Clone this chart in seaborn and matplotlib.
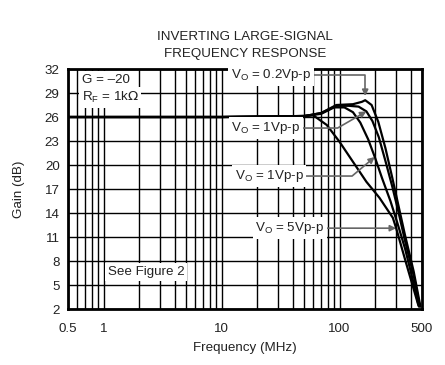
import numpy as np
import pandas as pd
import seaborn as sns
import matplotlib
matplotlib.use("Agg")
import matplotlib.pyplot as plt
from matplotlib.ticker import FixedLocator, LogLocator, NullFormatter

# curve data (frequency in MHz, gain in dB)
freq_02 = [0.5, 1, 10, 50, 70, 94, 130, 155, 165, 187, 213, 245, 280, 315, 358, 425, 485]
gain_02 = [26, 26, 26, 26.1, 26.5, 27.5, 27.6, 27.9, 28.1, 27.5, 25.4, 22.1, 18.4, 15.0, 11.3, 6.7, 2.3]

freq_1a = [0.5, 1, 10, 50, 70, 94, 120, 145, 169, 190, 215, 245, 280, 315, 358, 425, 480]
gain_1a = [26, 26, 26, 26.1, 26.5, 27.4, 27.4, 27.3, 26.7, 25.5, 23.5, 20.5, 17.3, 14.2, 10.6, 6.2, 2.3]

freq_1b = [0.5, 1, 10, 50, 70, 90, 110, 130, 150, 175, 199, 230, 270, 310, 360, 420, 470]
gain_1b = [26, 26, 26, 26.1, 26.4, 27.2, 27.2, 26.6, 25.3, 23.2, 21.0, 18.3, 15.5, 12.7, 9.5, 5.5, 2.3]

freq_5 = [0.5, 1, 10, 40, 60, 78, 100, 130, 169, 218, 283, 302, 364, 465]
gain_5 = [26, 26, 26, 26.1, 26.2, 25.0, 22.9, 20.4, 17.9, 15.9, 13.4, 12.1, 7.9, 2.5]

x_ticks = [0.5, 1, 10, 100, 500]
x_labels = ["0.5", "1", "10", "100", "500"]
y_ticks = list(range(2, 33, 3))

curves = {"0.2": (freq_02, gain_02), "1a": (freq_1a, gain_1a),
          "1b": (freq_1b, gain_1b), "5": (freq_5, gain_5)}
df = pd.concat([pd.DataFrame({"freq": f, "gain": g, "curve": k})
                for k, (f, g) in curves.items()], ignore_index=True)

sns.set_theme(style="white")
plt.rcParams["font.family"] = ["Liberation Sans", "DejaVu Sans"]
txt = "#222222"
fs = 9.6

fig = plt.figure(figsize=(4.45, 3.65), dpi=100)
ax = fig.add_axes([68 / 445, 56 / 365, 354 / 445, 240 / 365])

sns.lineplot(data=df, x="freq", y="gain", hue="curve", palette=["black"] * 4,
             estimator=None, sort=False, legend=False, linewidth=1.6, ax=ax, zorder=3)

ax.set_xscale("log")
ax.set_xlim(0.5, 500)
ax.set_ylim(2, 32)
ax.xaxis.set_major_locator(FixedLocator(x_ticks))
ax.set_xticklabels(x_labels)
ax.xaxis.set_minor_locator(LogLocator(base=10, subs=np.arange(2, 10), numticks=20))
ax.xaxis.set_minor_formatter(NullFormatter())
ax.set_yticks(y_ticks)
ax.tick_params(axis="both", which="both", length=0, labelsize=fs, colors=txt)
ax.tick_params(axis="y", pad=6)
ax.tick_params(axis="x", pad=10)
ax.grid(True, which="both", axis="x", color="black", linewidth=1.0)
ax.grid(True, which="major", axis="y", color="black", linewidth=1.0)
for s in ax.spines.values():
    s.set_visible(True)
    s.set_color("black")
    s.set_linewidth(2)

ax.set_xlabel("Frequency (MHz)", fontsize=fs, color=txt, labelpad=5)
ax.set_ylabel("Gain (dB)", fontsize=fs, color=txt, labelpad=14)
ax.set_title("INVERTING LARGE-SIGNAL\nFREQUENCY RESPONSE", fontsize=fs, color=txt,
             pad=9, linespacing=1.55)

box = dict(facecolor="white", edgecolor="none", pad=2)
ax.text(0.107, 0.954, "G = \u201320", transform=ax.transAxes, ha="center", va="center",
        fontsize=fs, color=txt, bbox=box, zorder=5)
ax.text(0.119, 0.880, r"R$_\mathregular{F}$ = 1k$\Omega$", transform=ax.transAxes,
        ha="center", va="center", fontsize=fs, color=txt, bbox=box, zorder=5)
ax.text(0.22, 0.154, "See Figure 2", transform=ax.transAxes, ha="center", va="center",
        fontsize=fs, color=txt, bbox=box, zorder=5)

# labels with leader lines
labels = [
    (r"V$_\mathregular{O}$ = 0.2Vp-p", (0.573, 0.975), (freq_02[8], gain_02[8]),
     "angle,angleA=0,angleB=90,rad=0", 3),
    (r"V$_\mathregular{O}$ = 1Vp-p", (0.559, 0.754), (freq_1a[8], gain_1a[8]),
     "angle,angleA=0,angleB=30,rad=0", 0),
    (r"V$_\mathregular{O}$ = 1Vp-p", (0.568, 0.554), (freq_1b[10], gain_1b[10]),
     "angle,angleA=0,angleB=40,rad=0", 0),
    (r"V$_\mathregular{O}$ = 5Vp-p", (0.627, 0.337), (freq_5[11], gain_5[11]), "arc3", 0),
]
for text, tpos, target, conn, shrink in labels:
    ax.annotate(text, xy=target, xycoords="data", xytext=tpos, textcoords="axes fraction",
                ha="center", va="center", fontsize=fs, color=txt, bbox=box, zorder=6,
                arrowprops=dict(arrowstyle="-|>", color="#666666", lw=1.2,
                                mutation_scale=9, shrinkA=0, shrinkB=shrink,
                                connectionstyle=conn))

fig.savefig("out.png", dpi=100)
